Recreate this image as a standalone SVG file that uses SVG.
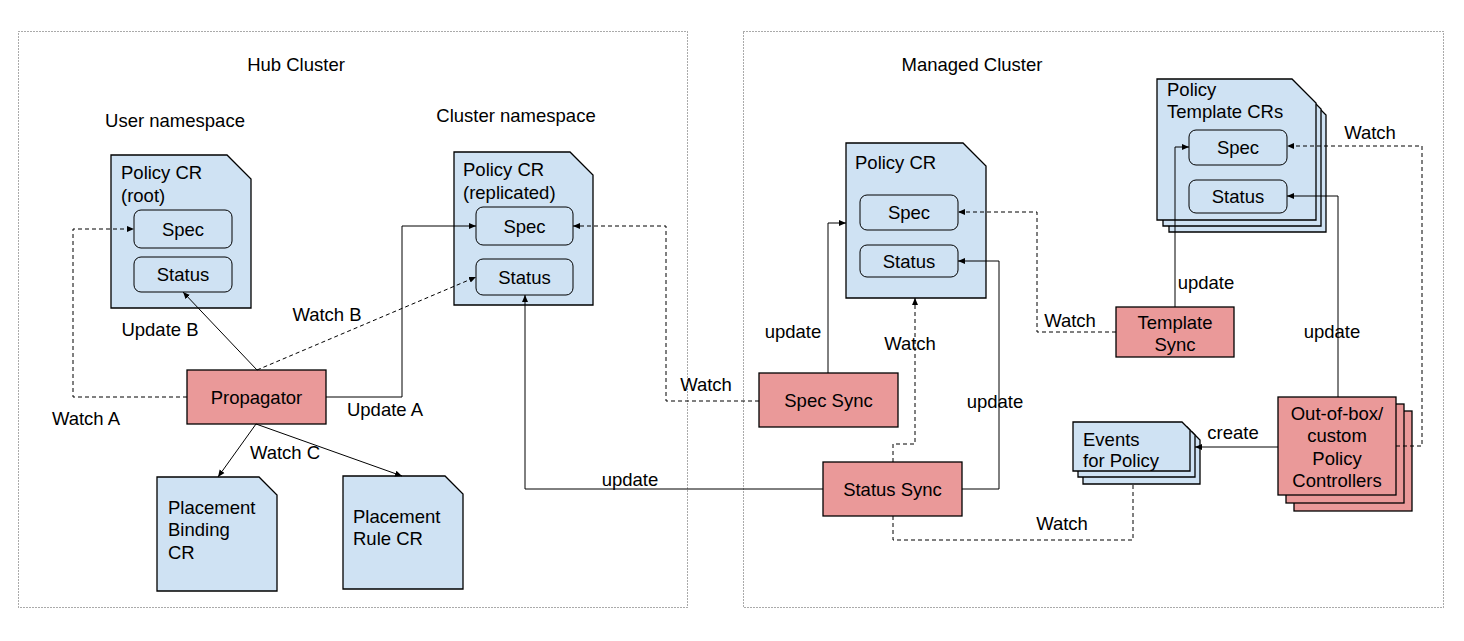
<svg xmlns="http://www.w3.org/2000/svg" width="1464" height="641" viewBox="0 0 1464 641">
<defs>
<marker id="arr" markerUnits="userSpaceOnUse" markerWidth="8" markerHeight="8" refX="7" refY="4" orient="auto">
<path d="M0,1 L7,4 L0,7 Z" fill="#000"/>
</marker>
<style>
text{font-family:"Liberation Sans",Arial,sans-serif;font-size:18.5px;fill:#000}
.mid{text-anchor:middle}
.cluster{fill:#fff;stroke:#555;stroke-width:1;stroke-dasharray:1 2}
.doc{fill:#cfe2f3;stroke:#000;stroke-width:1.3}
.box{fill:#cfe2f3;stroke:#000;stroke-width:1}
.red{fill:#ea9999;stroke:#000;stroke-width:1.3}
.c{fill:none;stroke:#000;stroke-width:1}
.d{fill:none;stroke:#000;stroke-width:1;stroke-dasharray:4 3}
.a{marker-end:url(#arr)}
</style>
</defs>
<rect width="1464" height="641" fill="#fff"/>

<g id="hub-cluster">
<rect class="cluster" x="18.5" y="31.5" width="669" height="576"/>
<text class="mid" x="296" y="70.5">Hub Cluster</text>
<text class="mid" x="175" y="126.5">User namespace</text>
<text class="mid" x="516" y="121.5">Cluster namespace</text>
</g>

<g id="managed-cluster">
<rect class="cluster" x="743.5" y="31.5" width="700" height="576"/>
<text class="mid" x="972" y="70.5">Managed Cluster</text>
</g>

<g id="policy-root">
<path class="doc" d="M111,155 H227 L251,179 V308 H111 Z"/>
<text x="121" y="179">Policy CR</text>
<text x="121" y="201.5">(root)</text>
<rect class="box" x="134" y="210" width="98" height="38" rx="7"/>
<text class="mid" x="183" y="235.5">Spec</text>
<rect class="box" x="134" y="257" width="98" height="35" rx="7"/>
<text class="mid" x="183" y="281">Status</text>
</g>

<g id="policy-replicated">
<path class="doc" d="M454,152 H570 L593,175 V305 H454 Z"/>
<text x="463" y="176">Policy CR</text>
<text x="463" y="198.5">(replicated)</text>
<rect class="box" x="476" y="207" width="97" height="38" rx="7"/>
<text class="mid" x="524.5" y="232.5">Spec</text>
<rect class="box" x="476" y="259" width="97" height="36" rx="7"/>
<text class="mid" x="524.5" y="283.5">Status</text>
</g>

<g id="propagator">
<rect class="red" x="187" y="370" width="139" height="54"/>
<text class="mid" x="256.5" y="403.5">Propagator</text>
</g>

<g id="placement-binding">
<path class="doc" d="M157,477 H259 L277,495 V591 H157 Z"/>
<text x="168" y="513.5">Placement</text>
<text x="168" y="536">Binding</text>
<text x="168" y="558.5">CR</text>
</g>

<g id="placement-rule">
<path class="doc" d="M343,476 H445 L463,494 V589 H343 Z"/>
<text x="353" y="523">Placement</text>
<text x="353" y="545">Rule CR</text>
</g>

<g id="policy-managed">
<path class="doc" d="M846,143 H963 L986,166 V298 H846 Z"/>
<text x="855" y="169">Policy CR</text>
<rect class="box" x="860" y="195" width="98" height="35" rx="7"/>
<text class="mid" x="909" y="219">Spec</text>
<rect class="box" x="860" y="245" width="98" height="32" rx="7"/>
<text class="mid" x="909" y="267.5">Status</text>
</g>

<g id="template-crs">
<path class="doc" d="M1169,91 H1302 L1326,115 V232 H1169 Z"/>
<path class="doc" d="M1163,85 H1297 L1321,109 V226 H1163 Z"/>
<path class="doc" d="M1157,79 H1292 L1316,103 V220 H1157 Z"/>
<text x="1167" y="95.5">Policy</text>
<text x="1167" y="118">Template CRs</text>
<rect class="box" x="1189" y="130" width="98" height="35" rx="7"/>
<text class="mid" x="1238" y="154">Spec</text>
<rect class="box" x="1189" y="180" width="98" height="33" rx="7"/>
<text class="mid" x="1238" y="203">Status</text>
</g>

<g id="spec-sync">
<rect class="red" x="759" y="373" width="139" height="54"/>
<text class="mid" x="828.5" y="406.5">Spec Sync</text>
</g>

<g id="status-sync">
<rect class="red" x="823" y="462" width="139" height="54"/>
<text class="mid" x="892.5" y="495.5">Status Sync</text>
</g>

<g id="template-sync">
<rect class="red" x="1116" y="307" width="118" height="50"/>
<text class="mid" x="1175" y="328.5">Template</text>
<text class="mid" x="1175" y="351">Sync</text>
</g>

<g id="events">
<path class="doc" d="M1083,432 H1192 L1200,440 V484 H1083 Z"/>
<path class="doc" d="M1078,427 H1187 L1195,435 V477 H1078 Z"/>
<path class="doc" d="M1073,422 H1182 L1190,430 V471 H1073 Z"/>
<text x="1083" y="445.5">Events</text>
<text x="1083" y="466.5">for Policy</text>
</g>

<g id="controllers">
<rect class="red" x="1294" y="411" width="118" height="100"/>
<rect class="red" x="1286" y="404" width="118" height="99"/>
<rect class="red" x="1278" y="397" width="118" height="98"/>
<text class="mid" x="1337" y="419.5">Out-of-box/</text>
<text class="mid" x="1337" y="442">custom</text>
<text class="mid" x="1337" y="464.5">Policy</text>
<text class="mid" x="1337" y="487">Controllers</text>
</g>

<g id="connectors">
<path class="d a" d="M187,397 H73 V229 H134"/>
<path class="c a" d="M257,370 L183,292"/>
<path class="d a" d="M257,370 L476,277"/>
<path class="c a" d="M326,397 H402 V226 H476"/>
<path class="c a" d="M256,424 L218,477"/>
<path class="c a" d="M256,424 L402,476"/>
<path class="c a" d="M823,489 H525 V295"/>
<path class="d a" d="M759,401 H666 V226 H573"/>
<path class="c a" d="M828,373 V223 H846"/>
<path class="c a" d="M962,489 H999 V261 H958"/>
<path class="d a" d="M893,462 V444 H915 V298"/>
<path class="d" d="M893,516 V540 H1133 V484"/>
<path class="c a" d="M1175,307 V147 H1189"/>
<path class="d a" d="M1116,332 H1037 V212 H958"/>
<path class="c a" d="M1338,397 V196 H1287"/>
<path class="d a" d="M1396,446 H1422 V146 H1287"/>
<path class="c a" d="M1278,447 H1195"/>
</g>

<g id="labels">
<text class="mid" x="160" y="335.5">Update B</text>
<text class="mid" x="327" y="320.5">Watch B</text>
<text class="mid" x="86" y="424.5">Watch A</text>
<text class="mid" x="385" y="415.5">Update A</text>
<text class="mid" x="285" y="458.5">Watch C</text>
<text class="mid" x="630" y="485.5">update</text>
<text class="mid" x="706" y="390.5">Watch</text>
<text class="mid" x="793" y="337.5">update</text>
<text class="mid" x="910" y="349.5">Watch</text>
<text class="mid" x="995" y="407.5">update</text>
<text class="mid" x="1062" y="529.5">Watch</text>
<text class="mid" x="1070" y="326.5">Watch</text>
<text class="mid" x="1206" y="288.5">update</text>
<text class="mid" x="1332" y="337.5">update</text>
<text class="mid" x="1370" y="138.5">Watch</text>
<text class="mid" x="1233" y="438.5">create</text>
</g>
</svg>
